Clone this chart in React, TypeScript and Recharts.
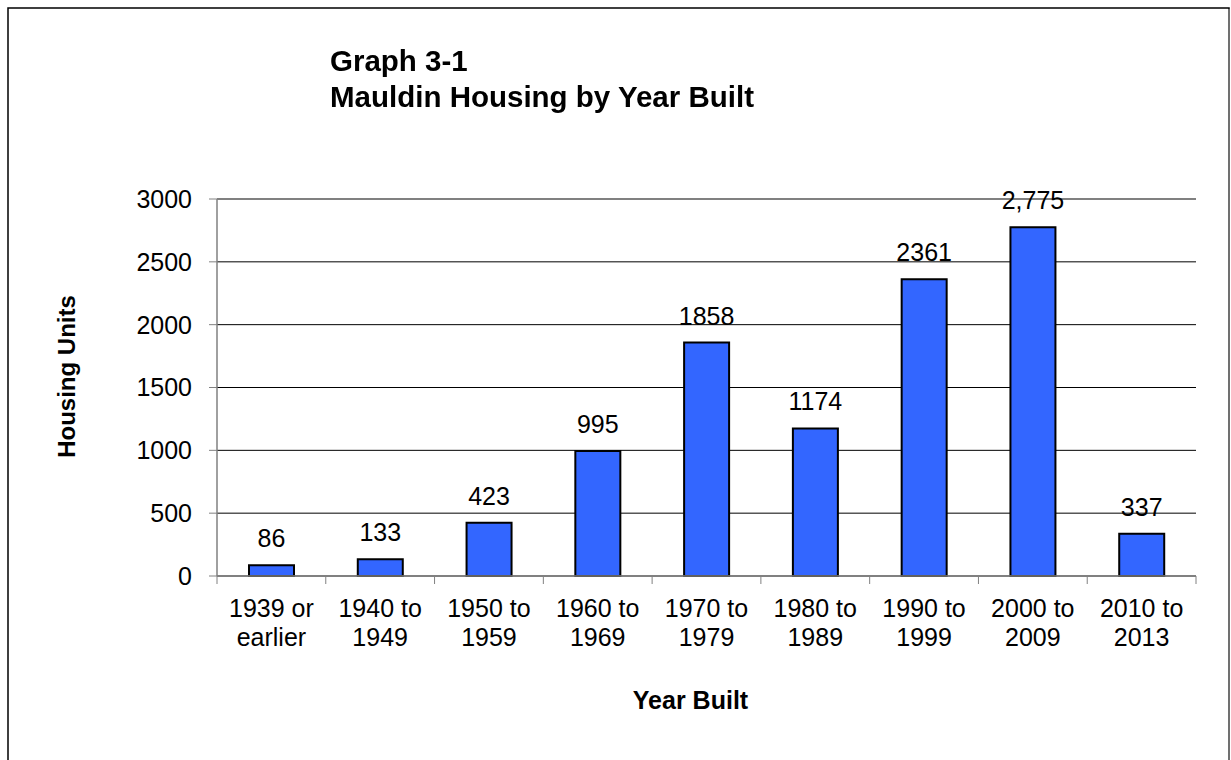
import React from 'react';
import { BarChart, Bar, XAxis, YAxis, CartesianGrid, LabelList, Label, ReferenceLine } from 'recharts';

const categoriesLine1 = ['1939 or', '1940 to', '1950 to', '1960 to', '1970 to', '1980 to', '1990 to', '2000 to', '2010 to'];
const categoriesLine2 = ['earlier', '1949', '1959', '1969', '1979', '1989', '1999', '2009', '2013'];
const housingUnits = [86, 133, 423, 995, 1858, 1174, 2361, 2775, 337];
const valueLabels = ['86', '133', '423', '995', '1858', '1174', '2361', '2,775', '337'];
const yTicks = [0, 500, 1000, 1500, 2000, 2500, 3000];
const titleLines = ['Graph 3-1', 'Mauldin Housing by Year Built'];

const data = housingUnits.map((v, i) => ({
  category: categoriesLine1[i] + ' ' + categoriesLine2[i],
  units: v,
  label: valueLabels[i],
}));

const FONT = '"Liberation Sans", Arial, Helvetica, sans-serif';
const CHART_W = 1222;
const CHART_H = 744;
const MARGIN = { top: 190, right: 34, bottom: 37, left: 9 };
const Y_AXIS_W = 200;
const X_AXIS_H = 140;
const PLOT_W = CHART_W - MARGIN.left - MARGIN.right - Y_AXIS_W;

const XTick = (props: any) => {
  const { x, y, payload, index } = props;
  const half = payload && payload.offset ? payload.offset : PLOT_W / categoriesLine1.length / 2;
  const i = typeof index === 'number' ? index : payload.index;
  return (
    <g>
      <line x1={x - half} x2={x - half} y1={y} y2={y + 8} stroke="#808080" strokeWidth={1} />
      {i === categoriesLine1.length - 1 && (
        <line x1={x + half} x2={x + half} y1={y} y2={y + 8} stroke="#808080" strokeWidth={1} />
      )}
      <text x={x} y={y + 41} textAnchor="middle" fontSize={25} fontFamily={FONT} fill="#000">
        {categoriesLine1[i]}
      </text>
      <text x={x} y={y + 70} textAnchor="middle" fontSize={25} fontFamily={FONT} fill="#000">
        {categoriesLine2[i]}
      </text>
    </g>
  );
};

const YTitle = (props: any) => {
  const vb = props.viewBox || { x: 0, y: 0, width: 0, height: 0 };
  const cx = vb.x + 58;
  const cy = vb.y + vb.height / 2 - 11;
  return (
    <text
      x={cx}
      y={cy}
      transform={`rotate(-90, ${cx}, ${cy})`}
      textAnchor="middle"
      fontSize={24}
      fontWeight="bold"
      fontFamily={FONT}
      fill="#000"
    >
      Housing Units
    </text>
  );
};

const XTitle = (props: any) => {
  const vb = props.viewBox || { x: 0, y: 0, width: 0, height: 0 };
  const cx = vb.x + vb.width / 2 - 16;
  const cy = vb.y + 133;
  return (
    <text x={cx} y={cy} textAnchor="middle" fontSize={25} fontWeight="bold" fontFamily={FONT} fill="#000">
      Year Built
    </text>
  );
};

export default function App() {
  return (
    <div
      style={{
        position: 'relative',
        width: 1215,
        height: 744,
        background: '#fff',
        fontFamily: FONT,
      }}
    >
      <div style={{ position: 'absolute', left: 0, top: 1 }}>
        <BarChart width={CHART_W} height={CHART_H} data={data} margin={MARGIN} barCategoryGap={0}>
          <CartesianGrid vertical={false} stroke="#000" strokeWidth={1} yAxisId="l" />
          <XAxis
            dataKey="category"
            height={X_AXIS_H}
            interval={0}
            tickSize={0}
            tickMargin={0}
            tickLine={false}
            axisLine={{ stroke: '#808080', strokeWidth: 1.5 }}
            tick={<XTick />}
          >
            <Label content={<XTitle />} />
          </XAxis>
          <YAxis
            yAxisId="l"
            width={Y_AXIS_W}
            domain={[0, 3000]}
            ticks={yTicks}
            interval={0}
            tickSize={8}
            tickMargin={17}
            tickLine={{ stroke: '#808080' }}
            axisLine={{ stroke: '#808080', strokeWidth: 1.5 }}
            tick={{ fontSize: 25, fill: '#000', fontFamily: FONT }}
          >
            <Label content={<YTitle />} />
          </YAxis>
          <YAxis
            yAxisId="r"
            orientation="right"
            width={0}
            domain={[0, 3000]}
            tick={false}
            tickLine={false}
            axisLine={{ stroke: '#808080', strokeWidth: 1.5 }}
          />
          <ReferenceLine yAxisId="l" y={3000} stroke="#808080" strokeWidth={1.5} />
          <Bar
            yAxisId="l"
            dataKey="units"
            barSize={45}
            fill="#3366FF"
            stroke="#000"
            strokeWidth={2}
            isAnimationActive={false}
          >
            <LabelList
              dataKey="label"
              position="top"
              offset={18}
              fontSize={25}
              fill="#000"
              fontFamily={FONT}
            />
          </Bar>
        </BarChart>
      </div>
      <svg
        width={1231}
        height={760}
        style={{ position: 'fixed', left: 0, top: 0, pointerEvents: 'none' }}
      >
        <rect x={8} y={8} width={1221} height={770} fill="none" stroke="#000" strokeWidth={1.5} />
        <line x1={1229} x2={1229} y1={9} y2={760} stroke="#808080" strokeWidth={1.5} />
        <text x={330} y={71} fontSize={29.5} fontWeight="bold" fontFamily={FONT} fill="#000">
          {titleLines[0]}
        </text>
        <text x={330} y={107} fontSize={29.5} fontWeight="bold" fontFamily={FONT} fill="#000">
          {titleLines[1]}
        </text>
      </svg>
    </div>
  );
}
